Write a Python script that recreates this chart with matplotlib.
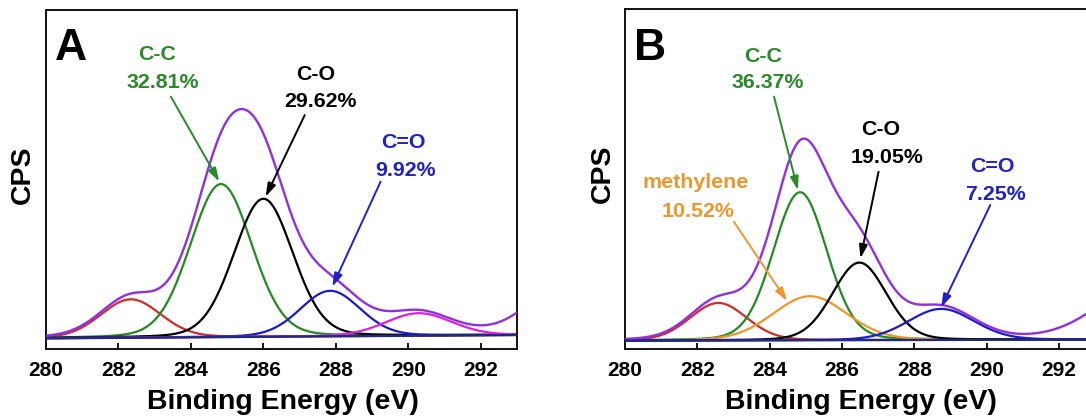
import numpy as np
import matplotlib
matplotlib.use('Agg')
import matplotlib.pyplot as plt

plt.rcParams['font.family'] = ['Liberation Sans', 'DejaVu Sans']
plt.rcParams['font.weight'] = 'bold'

# ---------------- data ----------------
x_lim = (280, 293)
xticks = [280, 282, 284, 286, 288, 290, 292]

# Panel A : fitted C 1s components (centre eV, height a.u., FWHM eV)
a_base_x = [280, 293]
a_base_y = [10.7, 14.0]
a_centers = [282.34, 284.83, 286.00, 287.84, 290.28, 294.6]
a_heights = [38.4, 153.0, 138.0, 45.5, 22.5, 60.0]
a_fwhm = [1.95, 2.00, 1.92, 1.95, 2.15, 2.6]
a_colors = ['#d42a2a', '#228b22', '#000000', '#1a1acc', '#e020e0', None]

a_labels = ['C-C', 'C-O', 'C=O']
a_pcts = ['32.81%', '29.62%', '9.92%']
a_lab_colors = ['#2a8a2a', '#000000', '#1e22c8']
a_lab_xy = [(283.07, 288.5), (287.44, 269.0), (289.85, 201.5)]
a_pct_xy = [(283.23, 260.7), (287.58, 241.7), (289.91, 172.5)]
a_arrow_from = [(283.45, 252.3), (287.14, 234.0), (289.23, 167.3)]
a_arrow_to = [(284.78, 167.5), (286.06, 152.3), (287.90, 62.3)]

# Panel B
b_base_x = [280, 293]
b_base_y = [8.3, 9.5]
b_centers = [282.58, 284.84, 285.11, 286.48, 288.74, 294.6]
b_heights = [37.5, 148.0, 44.0, 77.5, 31.0, 62.0]
b_fwhm = [1.85, 1.75, 2.40, 1.75, 2.15, 3.2]
b_colors = ['#d42a2a', '#228b22', '#f0962e', '#000000', '#1a1acc', None]

b_labels = ['C-C', 'methylene', 'C-O', 'C=O']
b_pcts = ['36.37%', '10.52%', '19.05%', '7.25%']
b_lab_colors = ['#2a8a2a', '#f0962e', '#000000', '#1e22c8']
b_lab_xy = [(283.81, 287.3), (281.96, 161.3), (287.08, 214.0), (290.17, 177.3)]
b_pct_xy = [(283.95, 260.7), (282.02, 132.3), (287.25, 185.7), (290.23, 149.0)]
b_arrow_from = [(284.12, 252.3), (283.01, 127.3), (287.01, 177.3), (290.10, 144.0)]
b_arrow_to = [(284.78, 159.0), (284.48, 48.0), (286.51, 90.7), (288.74, 41.5)]

envelope_color = '#9030e0'
baseline_color = '#1f2a80'
LORENTZ_FRACTION = 0.12


def gl(x, c, h, w, eta=LORENTZ_FRACTION):
    t = (x - c) / (w / 2.0)
    return h * ((1 - eta) * np.exp(-np.log(2) * t ** 2) + eta / (1 + t ** 2))


fig = plt.figure(figsize=(10.86, 4.17), dpi=100)
axA = fig.add_axes([45.8 / 1086, 68 / 417, 471.5 / 1086, 339 / 417])
axB = fig.add_axes([625 / 1086, 68 / 417, 470.2 / 1086, 340 / 417])


def draw(ax, base_x, base_y, centers, heights, fwhm, colors, ylim,
         labels, pcts, lab_colors, lab_xy, pct_xy, a_from, a_to, letter):
    x = np.linspace(x_lim[0], x_lim[1], 800)
    base = np.interp(x, base_x, base_y)
    total = np.zeros_like(x)
    for c, h, w, col in zip(centers, heights, fwhm, colors):
        comp = gl(x, c, h, w)
        total += comp
        if col is not None:
            ax.plot(x, base + comp, color=col, lw=1.6, zorder=2)
    ax.plot(x, base + total, color=envelope_color, lw=1.7, zorder=3)
    ax.plot(base_x, base_y, color=baseline_color, lw=1.7, zorder=4)

    ax.set_xlim(*x_lim)
    ax.set_ylim(*ylim)
    ax.set_xticks(xticks)
    ax.set_xticklabels([str(t) for t in xticks], fontsize=15, fontweight='bold')
    ax.set_yticks([])
    ax.tick_params(axis='x', direction='in', length=4, width=1.3, pad=8.5)
    for s in ax.spines.values():
        s.set_linewidth(1.4)
        s.set_color('#111111')

    ax.set_xlabel('Binding Energy (eV)', fontsize=20.5, fontweight='bold')
    ax.xaxis.set_label_coords(0.502, -0.117)
    ax.set_ylabel('CPS', fontsize=20.5, fontweight='bold')
    ax.yaxis.set_label_coords(-0.02, 0.515)

    ax.text(280.25, 289.5, letter, fontsize=32, fontweight='bold',
            ha='left', va='baseline', color='black')

    for lab, pct, col, lxy, pxy, f, t in zip(labels, pcts, lab_colors,
                                             lab_xy, pct_xy, a_from, a_to):
        ax.text(lxy[0], lxy[1], lab, color=col, fontsize=15.4,
                fontweight='bold', ha='center', va='baseline')
        ax.text(pxy[0], pxy[1], pct, color=col, fontsize=15.4,
                fontweight='bold', ha='center', va='baseline')
        ax.annotate('', xy=t, xytext=f,
                    arrowprops=dict(arrowstyle='-|>,head_length=0.8,head_width=0.25',
                                    color=col, lw=1.4, shrinkA=0, shrinkB=0,
                                    mutation_scale=10), zorder=5)


draw(axA, a_base_x, a_base_y, a_centers, a_heights, a_fwhm, a_colors, (0, 339),
     a_labels, a_pcts, a_lab_colors, a_lab_xy, a_pct_xy, a_arrow_from, a_arrow_to, 'A')
draw(axB, b_base_x, b_base_y, b_centers, b_heights, b_fwhm, b_colors, (0, 340),
     b_labels, b_pcts, b_lab_colors, b_lab_xy, b_pct_xy, b_arrow_from, b_arrow_to, 'B')

fig.savefig('out.png', dpi=100)
